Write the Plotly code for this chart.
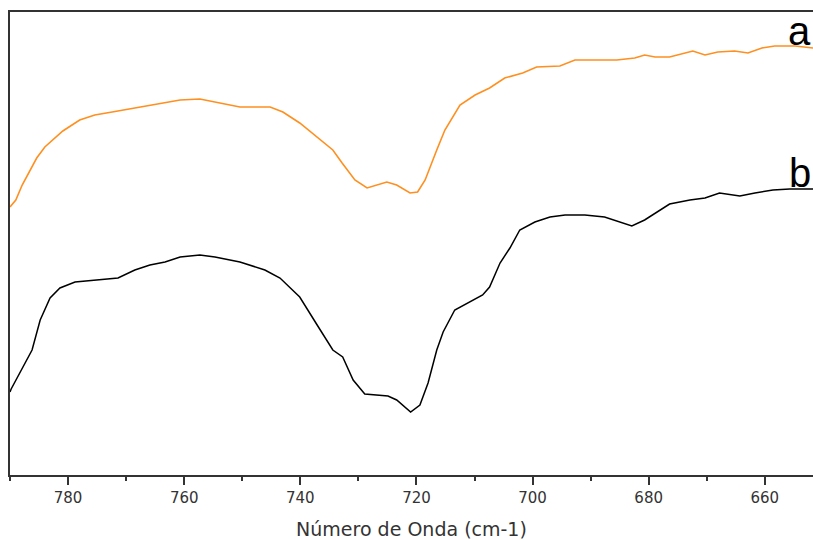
import plotly.graph_objects as go

# Wavenumber (cm-1) and relative transmittance (arbitrary units)
wn_a = [790.0, 789.0, 787.9, 785.4, 784.0, 780.9, 778.0, 775.4, 772.4, 768.5, 764.2, 760.7,
        757.3, 753.0, 750.4, 745.2, 743.0, 740.1, 734.4, 732.8, 730.6, 728.5, 726.8, 725.1,
        723.4, 721.1, 719.8, 718.5, 716.5, 715.1, 712.5, 709.9, 707.4, 704.8, 701.7, 699.3,
        695.3, 692.7, 685.5, 682.4, 680.7, 678.9, 676.4, 673.8, 672.4, 670.3, 668.1, 665.2,
        662.9, 660.5, 658.3, 654.8, 651.7]
t_a = [268, 275, 290, 317, 328, 344, 355, 360, 363, 367, 371, 375,
       376, 371, 368, 368, 363, 352, 325, 312, 295, 287, 290, 293,
       290, 282, 283, 295, 325, 345, 370, 380, 387, 397, 402, 408,
       409, 415, 415, 417, 420, 418, 418, 422, 424, 420, 423, 424,
       422, 427, 429, 429, 427]

wn_b = [790.0, 789.8, 786.2, 784.8, 783.1, 781.4, 778.8, 775.4, 771.4, 768.5, 765.9, 763.3,
        760.7, 757.3, 754.7, 750.4, 746.1, 743.5, 740.9, 740.1, 737.1, 734.4, 732.7, 730.9,
        728.9, 724.9, 723.4, 721.0, 719.4, 718.0, 716.5, 715.4, 713.4, 710.8, 708.6, 707.4,
        705.6, 703.9, 702.2, 699.6, 697.0, 694.4, 691.0, 687.6, 685.0, 682.9, 680.7, 678.1,
        676.4, 672.9, 670.3, 667.8, 664.3, 661.7, 658.6, 655.7, 651.7]
t_b = [83, 86, 125, 155, 177, 187, 193, 195, 197, 205, 210, 213,
       218, 220, 218, 213, 205, 197, 183, 178, 150, 125, 118, 95,
       81, 79, 75, 63, 70, 92, 125, 143, 165, 173, 180, 188,
       212, 227, 245, 253, 258, 260, 260, 258, 253, 249, 255, 265,
       271, 275, 277, 282, 279, 282, 285, 286, 286]

x_range = [790, 651.7]
y_range = [0, 463]
tick_vals = [780, 760, 740, 720, 700, 680, 660]

fig = go.Figure()
fig.add_trace(go.Scatter(x=wn_a, y=t_a, mode="lines", name="a",
                         line=dict(color="#FF8F1F", width=1.6)))
fig.add_trace(go.Scatter(x=wn_b, y=t_b, mode="lines", name="b",
                         line=dict(color="#000000", width=1.5)))

fig.add_annotation(xref="paper", x=1.0, y=420, text="a", showarrow=False,
                   xanchor="right", yanchor="bottom",
                   font=dict(family="Liberation Sans", size=40, color="#000"))
fig.add_annotation(xref="paper", x=1.0, y=278, text="b", showarrow=False,
                   xanchor="right", yanchor="bottom",
                   font=dict(family="Liberation Sans", size=40, color="#000"))

fig.update_layout(
    width=813, height=540,
    margin=dict(l=10, r=0, t=12, b=65),
    paper_bgcolor="white", plot_bgcolor="white",
    showlegend=False,
    xaxis=dict(range=x_range, tickvals=tick_vals, ticktext=[str(v) for v in tick_vals],
               showgrid=False, zeroline=False, showline=True, linecolor="#333", linewidth=2,
               mirror=True, ticks="outside", ticklen=8, tickwidth=2, tickcolor="#333",
               minor=dict(dtick=10, tick0=790, ticks="outside", ticklen=4, tickwidth=2, tickcolor="#333"),
               tickfont=dict(family="DejaVu Sans", size=15, color="#333"),
               title=dict(text="Número de Onda (cm-1)", standoff=17,
                          font=dict(family="DejaVu Sans", size=19, color="#333"))),
    yaxis=dict(range=y_range, showgrid=False, zeroline=False, showline=True, linecolor="#333",
               linewidth=2, showticklabels=False, ticks=""),
)

fig.write_html("out.html")
